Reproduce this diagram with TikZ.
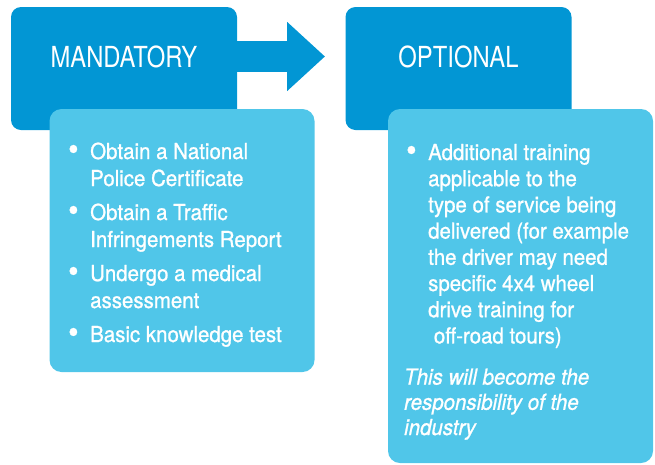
\documentclass[tikz,border=0pt]{standalone}
\usepackage{fontspec}
\setmainfont[FakeStretch=0.93,FakeBold=1]{TeX Gyre Heros}
\newfontfamily\titlefont[FakeStretch=0.82]{TeX Gyre Heros}
\usetikzlibrary{arrows.meta}
\definecolor{darkblue}{RGB}{2,150,212}
\definecolor{lightblue}{RGB}{80,198,233}
\tikzset{
  headbox/.style={fill=darkblue,rounded corners=10pt,inner sep=0pt,minimum width=226pt,minimum height=123pt},
  listbox/.style={fill=lightblue,rounded corners=12pt,inner sep=0pt,minimum width=265pt},
  headtext/.style={text=white,inner sep=0pt,font=\titlefont\fontsize{29}{32}\selectfont},
  listtext/.style={text=white,inner sep=0pt,anchor=base west},
}
\newcommand{\bul}{\hspace{2pt}\raisebox{-1pt}{\scalebox{1.45}{\textbullet}}}

\begin{document}
\begin{tikzpicture}[x=1pt,y=-1pt]
      \useasboundingbox (0,0) rectangle (655,464);
      % dark heading boxes
      \node (mand) at (124,68.5) [headbox] {};
      \node (opt) at (458.5,68.5) [headbox] {};
      \node (mandtitle) at ([yshift=11.5pt]mand.center) [headtext] {MANDATORY};
      \node (opttitle) at ([yshift=11.5pt]opt.center) [headtext] {OPTIONAL};
      \coordinate (tip) at (325,56.5);
      \draw[darkblue,line width=31pt,-{Triangle[length=38pt,width=67pt]}] (mand.east |- tip) -- (tip);
      % light list boxes
      \node (mandlist) at (182,240.5) [listbox,minimum height=263pt] {};
      \node (optlist) at (520.5,286) [listbox,minimum height=354pt] {};
      \node (mandtext) at (66,159) [listtext,font=\fontsize{22}{27}\selectfont] {%
        \begin{tabular}[t]{@{}p{24pt}@{}l@{}}
          \bul & Obtain a National\\
               & Police Certificate\\[7pt]
          \bul & Obtain a Traffic\\
               & Infringements Report\\[7pt]
          \bul & Undergo a medical\\
               & assessment\\[7pt]
          \bul & Basic knowledge test
        \end{tabular}};
      \node (opttext) at (404,160) [listtext,font=\fontsize{22}{26.2}\selectfont] {%
        \begin{tabular}[t]{@{}p{24pt}@{}l@{}}
          \bul & Additional training\\
               & applicable to the\\
               & type of service being\\
               & delivered (for example\\
               & the driver may need\\
               & specific 4x4 wheel\\
               & drive training for\\
               & \ off-road tours)\\[15pt]
          \multicolumn{2}{@{}l@{}}{\itshape This will become the}\\[-1pt]
          \multicolumn{2}{@{}l@{}}{\itshape responsibility of the}\\[-1pt]
          \multicolumn{2}{@{}l@{}}{\itshape industry}
        \end{tabular}};
    \end{tikzpicture}
\end{document}
